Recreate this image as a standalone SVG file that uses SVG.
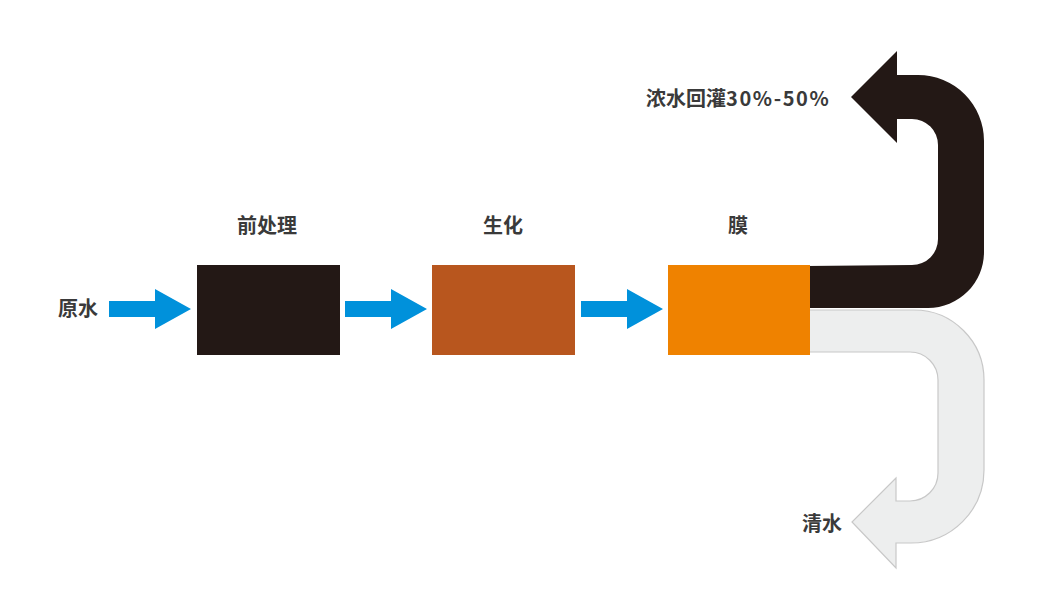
<svg xmlns="http://www.w3.org/2000/svg" xmlns:xlink="http://www.w3.org/1999/xlink" width="1051" height="599" viewBox="0 0 1051 599">
<style>
.lbl{font-family:"Noto Sans CJK SC","Noto Sans",sans-serif;font-weight:bold;font-size:20px;fill:#3a3a3a}
.flow{fill:#0091db}
</style>
<defs>
<path id="blueArrow" d="M0,301 L46,301 L46,289 L82,309 L46,329 L46,317 L0,317 Z"/>
</defs>
<rect width="1051" height="599" fill="#ffffff"/>
<g id="connectors">
<use href="#blueArrow" class="flow" transform="translate(109,0)"/>
<use href="#blueArrow" class="flow" transform="translate(345,0)"/>
<use href="#blueArrow" class="flow" transform="translate(581,0)"/>
<path id="clean-water" d="M 806 310 L 914 310 A 70 70 0 0 1 984 380 L 984 470 A 73 73 0 0 1 911 543 L 896 543 L 896 568 L 852 522 L 896 478 L 896 501 L 910 501 A 28 28 0 0 0 938 473 L 938 380 A 28 28 0 0 0 910 352 L 806 352 Z" fill="#edeeee" stroke="#c8c8c8" stroke-width="1.2"/>
<path id="concentrate" d="M 806 266 L 912 265 A 26 26 0 0 0 938 239 L 938 145 A 26 26 0 0 0 912 119 L 897 119 L 897 143 L 851 97 L 897 51 L 897 75 L 918 75 A 66 66 0 0 1 984 141 L 984 252 A 56 56 0 0 1 928 308 L 806 308 Z" fill="#231815"/>
</g>
<g id="node-pretreat">
<rect x="197" y="265" width="143" height="90" fill="#231815"/>
<text class="lbl" x="267" y="233" text-anchor="middle">前处理</text>
</g>
<g id="node-bio">
<rect x="432" y="265" width="143" height="90" fill="#b8561e"/>
<text class="lbl" x="503" y="233" text-anchor="middle">生化</text>
</g>
<g id="node-membrane">
<rect x="668" y="265" width="142" height="90" fill="#ef8200"/>
<text class="lbl" x="738" y="233" text-anchor="middle">膜</text>
</g>
<g id="label-raw">
<text class="lbl" x="58" y="316">原水</text>
</g>
<g id="label-concentrate">
<text class="lbl" x="646" y="106">浓水回灌<tspan letter-spacing="1.6">30%-50%</tspan></text>
</g>
<g id="label-clean">
<text class="lbl" x="802" y="531">清水</text>
</g>
</svg>
